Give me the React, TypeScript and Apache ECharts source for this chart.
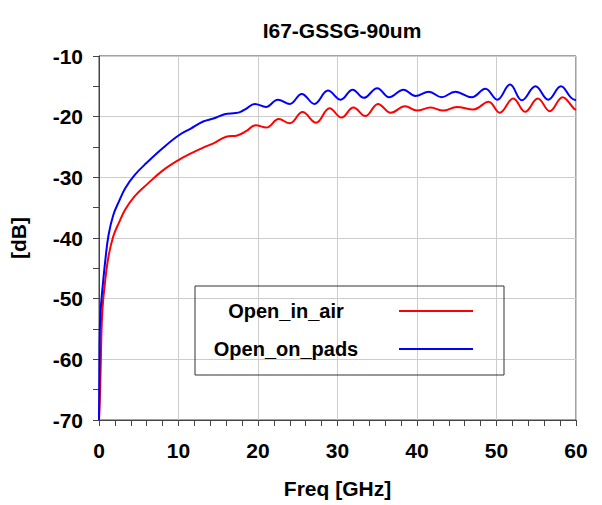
import React, { useEffect, useRef } from "react";
import * as echarts from "echarts";

const titleText = "I67-GSSG-90um";
const xName = "Freq [GHz]";
const yName = "[dB]";
const seriesNames = ["Open_in_air", "Open_on_pads"];

const airFreq = [0, 0.1, 0.2, 0.4, 0.8, 1.2, 1.8, 2.5, 3.3, 4.5, 6, 8, 10.2, 11.5, 13.1, 14.4, 16.0, 17.4, 18.5, 19.7, 21.05, 22.6, 24.0, 25.6, 27.3, 29.0, 30.5, 32.0, 33.5, 35.1, 36.7, 38.5, 40.0, 41.7, 43.3, 45.0, 47.1, 49.0, 50.4, 52.1, 53.6, 55.2, 56.7, 58.3, 59.7, 60];
const airDb = [-70, -67, -62, -52.5, -46.8, -43, -39.7, -37.5, -35.3, -33.1, -31.2, -28.9, -27, -26.1, -25.1, -24.4, -23.3, -23.1, -22.4, -21.4, -21.8, -20.4, -21.1, -19.25, -21.0, -18.6, -20.15, -18.5, -19.9, -17.9, -19.35, -18.3, -19.0, -18.5, -19.0, -18.4, -18.8, -17.55, -19.35, -17.0, -19.2, -17.0, -19.1, -16.8, -18.6, -18.9];

const padsFreq = [0, 0.05, 0.1, 0.2, 0.4, 0.8, 1.2, 1.8, 2.5, 3.3, 4.5, 6, 8, 10, 11.5, 13.1, 14.4, 15.8, 17.2, 17.8, 18.5, 19.6, 21.0, 22.5, 24.0, 25.5, 27.1, 28.8, 30.4, 31.9, 33.3, 35.0, 36.5, 38.3, 39.8, 41.5, 43.1, 44.8, 46.9, 48.6, 50.1, 51.7, 53.2, 54.9, 56.5, 58.1, 59.4, 60];
const padsDb = [-70, -62, -55.5, -52, -48.8, -43.6, -39.5, -36.2, -34, -31.8, -29.6, -27.6, -25.2, -23.1, -22, -20.8, -20.3, -19.6, -19.4, -19.2, -18.7, -17.9, -18.4, -17.2, -17.9, -16.25, -17.9, -15.7, -17.2, -15.55, -16.9, -15.3, -16.8, -15.55, -16.6, -15.9, -16.8, -15.9, -16.8, -15.4, -17.2, -14.7, -17.3, -15.0, -17.2, -15.0, -16.9, -17.3];

const xMin = 0, xMax = 60, xStep = 10;
const yMin = -70, yMax = -10, yStep = 10;

const FONT = "'Liberation Sans', Arial, sans-serif";

function pairs(xs: number[], ys: number[]) {
  return xs.map((x, i) => [x, ys[i]]);
}

export default function App() {
  const ref = useRef<HTMLDivElement>(null);
  useEffect(() => {
    if (!ref.current) return;
    const chart = echarts.init(ref.current, null, { renderer: "svg" });
    chart.setOption({
      animation: false,
      backgroundColor: "#fff",
      title: {
        text: titleText,
        left: 337,
        textAlign: "center",
        top: 15,
        textStyle: { fontFamily: FONT, fontWeight: "bold", fontSize: 21, color: "#000" },
      },
      grid: {
        left: 99, right: 26, top: 56, bottom: 85,
        show: true, borderColor: "#444", borderWidth: 1,
      },
      legend: {
        orient: "vertical",
        left: 195,
        top: 286,
        align: "right",
        padding: [15, 31, 16, 9],
        itemGap: 18,
        itemWidth: 74,
        itemHeight: 2,
        icon: "rect",
        borderColor: "#333",
        borderWidth: 1,
        borderRadius: 0,
        data: seriesNames,
        formatter: (name: string) => `{n|${name}}`,
        textStyle: {
          fontFamily: FONT, fontWeight: "bold", fontSize: 20, color: "#000",
          rich: {
            n: {
              width: 164, align: "center", padding: [0, 26, 0, 0], lineHeight: 22,
              fontFamily: FONT, fontWeight: "bold", fontSize: 20, color: "#000",
            },
          },
        },
      },
      xAxis: {
        type: "value",
        min: xMin, max: xMax, interval: xStep,
        name: xName,
        nameLocation: "middle",
        nameGap: 58,
        nameTextStyle: { fontFamily: FONT, fontWeight: "bold", fontSize: 21, color: "#000" },
        axisLine: { show: true, onZero: false, lineStyle: { color: "#444", width: 1 } },
        axisTick: { show: true, inside: false, length: 6, lineStyle: { color: "#444" } },
        minorTick: { show: true, splitNumber: 5, length: 6, lineStyle: { color: "#444" } },
        axisLabel: { margin: 20, fontFamily: FONT, fontWeight: "bold", fontSize: 21, color: "#000" },
        splitLine: { show: true, lineStyle: { color: "#cccccc", width: 1 } },
      },
      yAxis: {
        type: "value",
        min: yMin, max: yMax, interval: yStep,
        name: yName,
        nameLocation: "middle",
        nameRotate: 90,
        nameGap: 70,
        nameTextStyle: { fontFamily: FONT, fontWeight: "bold", fontSize: 21, color: "#000" },
        axisLine: { show: true, onZero: false, lineStyle: { color: "#444", width: 1 } },
        axisTick: { show: true, inside: false, length: 6, lineStyle: { color: "#444" } },
        minorTick: { show: true, splitNumber: 2, length: 6, lineStyle: { color: "#444" } },
        axisLabel: { margin: 16, fontFamily: FONT, fontWeight: "bold", fontSize: 21, color: "#000" },
        splitLine: { show: true, lineStyle: { color: "#cccccc", width: 1 } },
      },
      series: [
        {
          name: seriesNames[0],
          type: "line",
          data: pairs(airFreq, airDb),
          showSymbol: false,
          smooth: 0.4,
          lineStyle: { color: "#ff0000", width: 2 },
          itemStyle: { color: "#ff0000" },
        },
        {
          name: seriesNames[1],
          type: "line",
          data: pairs(padsFreq, padsDb),
          showSymbol: false,
          smooth: 0.4,
          lineStyle: { color: "#0000ff", width: 2 },
          itemStyle: { color: "#0000ff" },
        },
      ],
    });
    return () => chart.dispose();
  }, []);
  return <div ref={ref} style={{ width: 602, height: 505, position: "absolute", left: 0, top: 0 }} />;
}
